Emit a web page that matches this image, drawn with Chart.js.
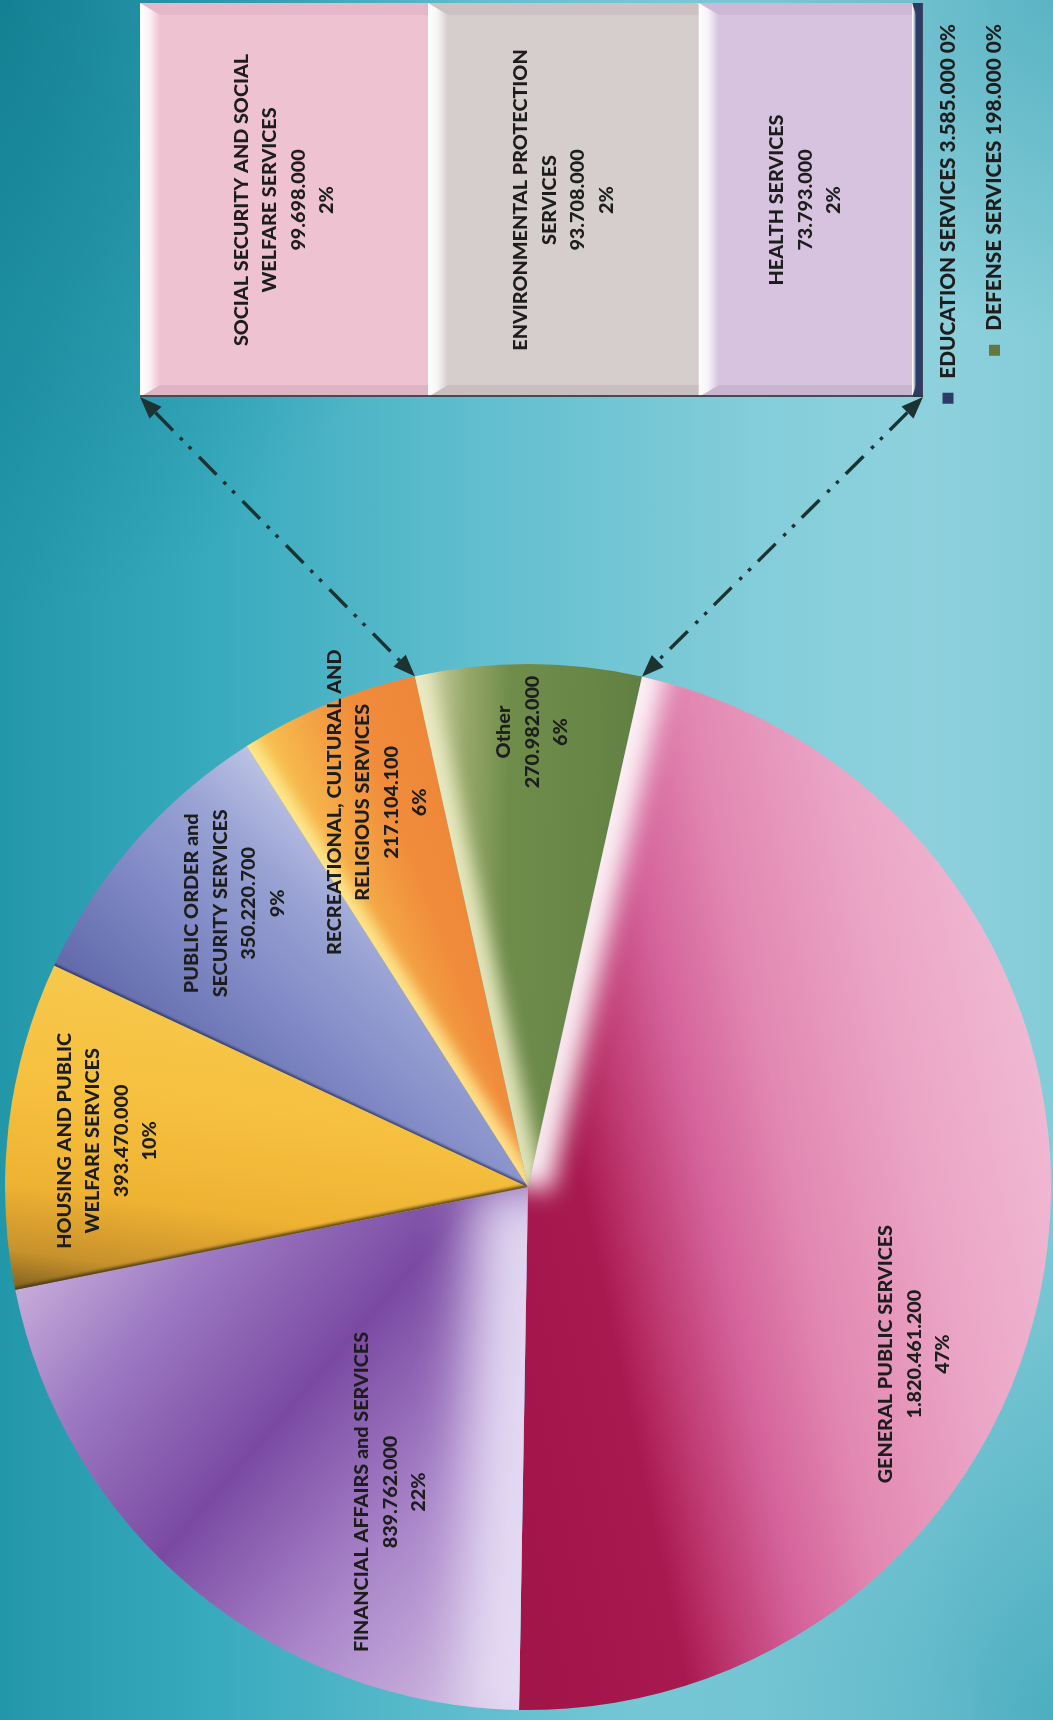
<!DOCTYPE html>
<html>
<head>
<meta charset="utf-8">
<title>Budget allocation by function</title>
<script src="https://cdn.jsdelivr.net/npm/chart.js@4.4.1/dist/chart.umd.min.js"></script>
<style>
  html, body { margin: 0; padding: 0; width: 1053px; height: 1720px; overflow: hidden; }
  body {
    background:
      radial-gradient(ellipse 620px 820px at 0% 0%, rgba(8, 110, 128, 0.55), rgba(8, 110, 128, 0) 75%),
      radial-gradient(ellipse 520px 700px at 100% 100%, rgba(30, 150, 172, 0.55), rgba(30, 150, 172, 0) 80%),
      radial-gradient(ellipse 500px 420px at 100% 0%, rgba(40, 150, 170, 0.45), rgba(40, 150, 170, 0) 80%),
      linear-gradient(90deg, #2397aa 0%, #38aabe 20%, #60bece 45%, #84cdda 72%, #8ed1dd 88%, #84ccd8 100%);
  }
  /* the chart is laid out sideways and turned a quarter turn to stand upright */
  #stage {
    position: absolute; left: 0; top: 0; width: 1720px; height: 1053px;
    transform-origin: 0 0; transform: translate(0, 1720px) rotate(-90deg);
  }
  #stage canvas { position: absolute; left: 0; top: 0; }
</style>
</head>
<body>
<div id="stage">
  <canvas id="pie" width="1720" height="1053"></canvas>
  <canvas id="bar" width="1720" height="1053"></canvas>
</div>
<script>
// ---- data -------------------------------------------------------------
const pieCategories = [
  ['GENERAL PUBLIC SERVICES'],
  ['FINANCIAL AFFAIRS and SERVICES'],
  ['HOUSING AND PUBLIC', 'WELFARE SERVICES'],
  ['PUBLIC ORDER and', 'SECURITY SERVICES'],
  ['RECREATIONAL, CULTURAL AND', 'RELIGIOUS SERVICES'],
  ['Other']
];
const pieValues = [1820461200, 839762000, 393470000, 350220700, 217104100, 270982000];
const pieShareLabels = ['47%', '22%', '10%', '9%', '6%', '6%'];

const barCategories = [
  ['SOCIAL SECURITY AND SOCIAL', 'WELFARE SERVICES'],
  ['ENVIRONMENTAL PROTECTION', 'SERVICES'],
  ['HEALTH SERVICES'],
  ['EDUCATION SERVICES'],
  ['DEFENSE SERVICES']
];
const barValues = [99698000, 93708000, 73793000, 3585000, 198000];
const barShareLabels = ['2%', '2%', '2%', '0%', '0%'];

// ---- styling ----------------------------------------------------------
const FONT = 'Lato, "Open Sans", sans-serif';
const LABEL_FONT = '900 19.8px ' + FONT;
const LEGEND_FONT = '900 20.8px ' + FONT;
const TEXT_COLOR = '#1d1d1d';
const LINE_HEIGHT = 28.5;

// shading of each pie slice: linear gradient along an axis through the centre
// (angle in canvas degrees, extent in fractions of the radius) plus a soft
// bevel line along the slice's leading edge
const sliceShading = [
  { axis: 78, from: -0.25, to: 1,
    stops: [[0, '#a01448'], [0.28, '#a8194f'], [0.36, '#bf3a72'], [0.464, '#d4629a'], [0.6, '#e288b2'], [0.8, '#eba5c6'], [1, '#f0b8d2']],
    edge: { color: 'rgba(255,250,252,0.95)', width: 46, blur: 12 } },
  { axis: 311, from: -0.66, to: 0.66,
    stops: [[0, '#d8c8e6'], [0.3, '#ac88cb'], [0.55, '#7a4aa3'], [0.78, '#9c78c2'], [1, '#cfb6de']],
    edge: { color: 'rgba(230,220,244,0.95)', width: 110, blur: 26 } },
  { axis: 8, from: -0.32, to: 0.32,
    stops: [[0, '#8a6822'], [0.1, '#c8922c'], [0.3, '#efb233'], [0.6, '#f6c03f'], [1, '#f7c94e']],
    edge: { color: 'rgba(70,50,20,0.85)', width: 5, blur: 1.5 } },
  { axis: 42.8, from: -0.28, to: 0.28,
    stops: [[0, '#646cae'], [0.35, '#7f88c4'], [0.7, '#9aa3d4'], [1, '#c2c8e7']],
    edge: { color: 'rgba(40,40,70,0.7)', width: 4, blur: 1 } },
  { axis: 69, from: -0.175, to: 0.175,
    stops: [[0, '#f8c452'], [0.3, '#f4a444'], [0.55, '#f08c3c'], [1, '#ee8538']],
    edge: { color: 'rgba(255,236,150,0.9)', width: 22, blur: 7 } },
  { axis: 91, from: -0.21, to: 0.21,
    stops: [[0, '#cfd2a6'], [0.18, '#97a96a'], [0.38, '#6f8c4b'], [0.75, '#688746'], [1, '#5f7f41']],
    edge: { color: 'rgba(236,236,196,0.95)', width: 30, blur: 9 } }
];

// where each slice's text block sits: fraction of the radius and turn off the bisector (deg)
const pieLabelPlacement = [
  { radius: 0.805, turn: 16.6 },
  { radius: 0.64, turn: -15.5 },
  { radius: 0.81, turn: -0.6 },
  { radius: 0.78, turn: 2.8 },
  { radius: 0.79, turn: 1.1 },
  { radius: 0.87, turn: 0.5 }
];

const barColors = ['#efc2d2', '#d6cdcd', '#d7c3df', '#2c3c68', '#66763f'];
const OTHER_INDEX = pieCategories.length - 1;
const LEGEND_FROM = 3; // segments too thin for an inside label are listed below the bar

const formatAmount = v => String(Math.round(v)).replace(/\B(?=(\d{3})+(?!\d))/g, '.');

function drawTextBlock(ctx, lines, cx, cy, font) {
  ctx.save();
  ctx.font = font;
  ctx.fillStyle = TEXT_COLOR;
  ctx.textAlign = 'center';
  ctx.textBaseline = 'middle';
  lines.forEach((line, k) => {
    ctx.fillText(line, cx, cy + (k - (lines.length - 1) / 2) * LINE_HEIGHT);
  });
  ctx.restore();
}

function sliceFill(context) {
  const s = sliceShading[context.dataIndex];
  const area = context.chart.chartArea;
  if (!area) return s.stops[2][1];
  const cx = (area.left + area.right) / 2, cy = (area.top + area.bottom) / 2;
  const r = Math.min(area.right - area.left, area.bottom - area.top) / 2;
  const a = s.axis * Math.PI / 180;
  const g = context.chart.ctx.createLinearGradient(
    cx + Math.cos(a) * r * s.from, cy + Math.sin(a) * r * s.from,
    cx + Math.cos(a) * r * s.to, cy + Math.sin(a) * r * s.to);
  s.stops.forEach(([p, c]) => g.addColorStop(p, c));
  return g;
}

// soft bevel along the leading edge of each slice
const sliceEdges = {
  id: 'sliceEdges',
  afterDatasetsDraw(chart) {
    const ctx = chart.ctx;
    chart.getDatasetMeta(0).data.forEach((arc, i) => {
      const e = sliceShading[i].edge;
      const { x, y, startAngle, endAngle, outerRadius } =
        arc.getProps(['x', 'y', 'startAngle', 'endAngle', 'outerRadius'], true);
      ctx.save();
      ctx.beginPath();
      ctx.moveTo(x, y);
      ctx.arc(x, y, outerRadius, startAngle, endAngle);
      ctx.closePath();
      ctx.clip();
      ctx.filter = 'blur(' + e.blur + 'px)';
      ctx.strokeStyle = e.color;
      ctx.lineWidth = e.width;
      ctx.beginPath();
      ctx.moveTo(x, y);
      ctx.lineTo(x + Math.cos(startAngle) * (outerRadius + 20), y + Math.sin(startAngle) * (outerRadius + 20));
      ctx.stroke();
      ctx.restore();
    });
  }
};

const pieLabels = {
  id: 'pieLabels',
  afterDatasetsDraw(chart) {
    const ctx = chart.ctx;
    chart.getDatasetMeta(0).data.forEach((arc, i) => {
      const { x, y, startAngle, endAngle, outerRadius } =
        arc.getProps(['x', 'y', 'startAngle', 'endAngle', 'outerRadius'], true);
      const p = pieLabelPlacement[i];
      const a = (startAngle + endAngle) / 2 + p.turn * Math.PI / 180;
      const lines = [...pieCategories[i], formatAmount(pieValues[i]), pieShareLabels[i]];
      drawTextBlock(ctx, lines,
        x + Math.cos(a) * outerRadius * p.radius,
        y + Math.sin(a) * outerRadius * p.radius,
        LABEL_FONT);
    });
  }
};

// bevelled faces on the stacked bar
const barBevel = {
  id: 'barBevel',
  afterDatasetsDraw(chart) {
    const ctx = chart.ctx;
    chart.data.datasets.forEach((ds, di) => {
      chart.getDatasetMeta(di).data.forEach(bar => {
        const { x, y, base, width } = bar.getProps(['x', 'y', 'base', 'width'], true);
        const l = x - width / 2, r = x + width / 2;
        const t = Math.min(y, base), b = Math.max(y, base);
        const h = b - t;
        if (h < 1.5) return;
        const kv = Math.min(20, h * 0.4);   // leading face depth
        const ks = 12;                      // side face depth
        ctx.save();
        // side faces
        ctx.fillStyle = 'rgba(90,60,80,0.10)';
        ctx.beginPath();
        ctx.moveTo(l, t); ctx.lineTo(l + ks, t + kv); ctx.lineTo(l + ks, b); ctx.lineTo(l, b);
        ctx.closePath(); ctx.fill();
        ctx.fillStyle = 'rgba(90,60,80,0.07)';
        ctx.beginPath();
        ctx.moveTo(r, t); ctx.lineTo(r - ks, t + kv); ctx.lineTo(r - ks, b); ctx.lineTo(r, b);
        ctx.closePath(); ctx.fill();
        // lit leading face
        const g = ctx.createLinearGradient(0, t, 0, t + kv);
        g.addColorStop(0, 'rgba(255,255,255,1)');
        g.addColorStop(0.45, 'rgba(255,255,255,0.8)');
        g.addColorStop(1, 'rgba(255,255,255,0)');
        ctx.fillStyle = g;
        ctx.beginPath();
        ctx.moveTo(l, t); ctx.lineTo(r, t); ctx.lineTo(r - ks, t + kv); ctx.lineTo(l + ks, t + kv);
        ctx.closePath(); ctx.fill();
        ctx.restore();
      });
    });
    const a = chart.chartArea;
    ctx.save();
    ctx.strokeStyle = 'rgba(45,55,65,0.85)';
    ctx.lineWidth = 2;
    ctx.beginPath();
    ctx.moveTo(a.left + 1, a.top); ctx.lineTo(a.left + 1, a.bottom);
    ctx.stroke();
    ctx.restore();
  }
};

const barLabels = {
  id: 'barLabels',
  afterDatasetsDraw(chart) {
    const ctx = chart.ctx;
    chart.data.datasets.forEach((ds, di) => {
      if (di >= LEGEND_FROM) return;
      chart.getDatasetMeta(di).data.forEach(bar => {
        const { x, y, base } = bar.getProps(['x', 'y', 'base'], true);
        const lines = [...barCategories[di], formatAmount(barValues[di]), barShareLabels[di]];
        drawTextBlock(ctx, lines, x, (y + base) / 2, LABEL_FONT);
      });
    });
  }
};

// dash-dot-dot connectors from the "Other" slice to the ends of the bar
const seriesLines = {
  id: 'seriesLines',
  afterDraw(chart) {
    const arc = pieChart.getDatasetMeta(0).data[OTHER_INDEX];
    const { x, y, startAngle, endAngle, outerRadius } =
      arc.getProps(['x', 'y', 'startAngle', 'endAngle', 'outerRadius'], true);
    const a = chart.chartArea;
    const pairs = [
      [{ x: x + Math.cos(startAngle) * outerRadius, y: y + Math.sin(startAngle) * outerRadius }, { x: a.left, y: a.top }],
      [{ x: x + Math.cos(endAngle) * outerRadius, y: y + Math.sin(endAngle) * outerRadius }, { x: a.left, y: a.bottom }]
    ];
    const ctx = chart.ctx;
    const head = 22, half = 8.5;
    const arrow = (tip, ux, uy) => {
      ctx.beginPath();
      ctx.moveTo(tip.x, tip.y);
      ctx.lineTo(tip.x - ux * head - uy * half, tip.y - uy * head + ux * half);
      ctx.lineTo(tip.x - ux * head + uy * half, tip.y - uy * head - ux * half);
      ctx.closePath();
      ctx.fill();
    };
    ctx.save();
    ctx.strokeStyle = '#1b3333';
    ctx.fillStyle = '#1b3333';
    ctx.lineWidth = 3.4;
    pairs.forEach(([p, q]) => {
      const dx = q.x - p.x, dy = q.y - p.y, len = Math.hypot(dx, dy);
      const ux = dx / len, uy = dy / len;
      ctx.setLineDash([25, 10, 3.5, 9, 3.5, 11]);
      ctx.beginPath();
      ctx.moveTo(q.x - ux * head, q.y - uy * head);
      ctx.lineTo(p.x + ux * head, p.y + uy * head);
      ctx.stroke();
      ctx.setLineDash([]);
      arrow(q, ux, uy);      // at the bar corner
      arrow(p, -ux, -uy);    // at the slice edge
    });
    ctx.restore();
  }
};

// legend rows for the thin segments, listed under the bar
const legendRows = {
  id: 'legendRows',
  afterDraw(chart) {
    const ctx = chart.ctx;
    const a = chart.chartArea;
    const rowGap = 46.5, box = 11;
    ctx.save();
    ctx.font = LEGEND_FONT;
    ctx.textBaseline = 'middle';
    ctx.textAlign = 'right';
    barCategories.forEach((lines, i) => {
      if (i < LEGEND_FROM) return;
      const rowY = a.bottom + 25 + (i - LEGEND_FROM) * rowGap;
      const text = lines.join(' ') + ' ' + formatAmount(barValues[i]) + ' ' + barShareLabels[i];
      const right = a.right - 21;
      const w = ctx.measureText(text).width;
      ctx.fillStyle = TEXT_COLOR;
      ctx.fillText(text, right, rowY);
      ctx.fillStyle = barColors[i];
      ctx.fillRect(right - w - 14 - box, rowY - box / 2, box, box);
    });
    ctx.restore();
  }
};

Chart.defaults.font.family = FONT;

const pieChart = new Chart(document.getElementById('pie'), {
  type: 'pie',
  data: {
    labels: pieCategories.map(l => l.join(' ')),
    datasets: [{ data: pieValues, backgroundColor: sliceFill, borderWidth: 0 }]
  },
  options: {
    responsive: false,
    animation: false,
    events: [],
    rotation: 102.6,
    layout: { padding: { left: 10, right: 664, top: 5, bottom: 2 } },
    plugins: { legend: { display: false }, tooltip: { enabled: false } }
  },
  plugins: [sliceEdges, pieLabels]
});

const barTotal = barValues.reduce((s, v) => s + v, 0);

const barChart = new Chart(document.getElementById('bar'), {
  type: 'bar',
  data: {
    labels: ['Other'],
    datasets: barCategories.map((lines, i) => ({
      label: lines.join(' '),
      data: [barValues[i]],
      backgroundColor: barColors[i],
      borderWidth: 0,
      barPercentage: 1,
      categoryPercentage: 1,
      stack: 'other'
    }))
  },
  options: {
    responsive: false,
    animation: false,
    events: [],
    layout: { padding: { left: 1323, right: 3, top: 140, bottom: 130 } },
    scales: {
      x: { display: false, stacked: true },
      y: { display: false, stacked: true, reverse: true, min: 0, max: barTotal }
    },
    plugins: { legend: { display: false }, tooltip: { enabled: false } }
  },
  plugins: [barBevel, barLabels, seriesLines, legendRows]
});
</script>
</body>
</html>
